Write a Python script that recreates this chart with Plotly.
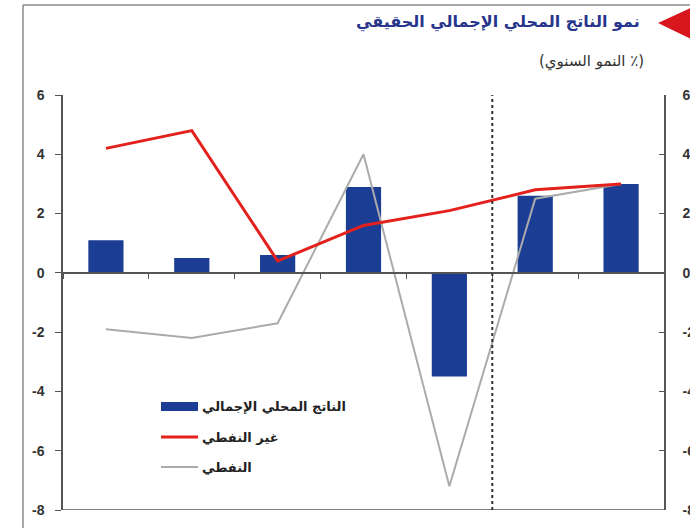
import plotly.graph_objects as go

# ---------------- data ----------------
categories = ["1", "2", "3", "4", "5", "6", "7"]
gdp = [1.1, 0.5, 0.6, 2.9, -3.5, 2.6, 3.0]          # الناتج المحلي الإجمالي (bars)
non_oil = [4.2, 4.8, 0.4, 1.6, 2.1, 2.8, 3.0]       # غير النفطي (red line)
oil = [-1.9, -2.2, -1.7, 4.0, -7.2, 2.5, 3.0]       # النفطي (grey line)
y_ticks = [6, 4, 2, 0, -2, -4, -6, -8]
y_ticktext = [str(v) for v in y_ticks]
title_text = "نمو الناتج المحلي الإجمالي الحقيقي"
subtitle_text = "(النمو السنوي ٪)"
legend_names = ["الناتج المحلي الإجمالي", "غير النفطي", "النفطي"]
forecast_boundary = 4.5

# ---------------- styles ----------------
BLUE = "#1c3d94"
RED = "#e3201b"
GREY = "#ababab"
AXIS = "#555555"
W, H = 690, 528
ML, MR, MT, MB = 63, 26, 95, 18
PW, PH = W - ML - MR, H - MT - MB


def px(xp):
    return (xp - ML) / PW


def py(yp):
    return (H - MB - yp) / PH


fig = go.Figure()
fig.add_trace(go.Bar(x=categories, y=gdp, width=0.41, marker=dict(color=BLUE, line=dict(width=0)),
                     name=legend_names[0], showlegend=False))
fig.add_trace(go.Scatter(x=categories, y=oil, mode="lines", line=dict(color=GREY, width=2),
                         name=legend_names[2], showlegend=False))
fig.add_trace(go.Scatter(x=categories, y=non_oil, mode="lines", line=dict(color=RED, width=3),
                         name=legend_names[1], showlegend=False))
fig.add_trace(go.Scatter(x=[categories[0]], y=[None], yaxis="y2", showlegend=False, hoverinfo="skip"))

tickfont = dict(family="Liberation Sans, Arial", size=14, color="#333333", weight="bold")

fig.update_layout(
    width=W, height=H, template="none",
    margin=dict(l=ML, r=MR, t=MT, b=MB, autoexpand=False),
    plot_bgcolor="white", paper_bgcolor="white",
    showlegend=False,
    xaxis=dict(type="category", range=[-0.5, 6.5], anchor="free", position=8 / 14,
               showline=True, linecolor=AXIS, linewidth=1.5, ticks="outside", tickson="boundaries",
               ticklen=5, tickcolor=AXIS, tickwidth=1.2, showticklabels=False, showgrid=False,
               zeroline=False, automargin=False),
    yaxis=dict(range=[-8, 6], tickvals=y_ticks, ticktext=y_ticktext, ticks="outside", ticklen=6,
               tickcolor=AXIS, tickwidth=1.2, showline=True, linecolor=AXIS, linewidth=1.5,
               tickfont=tickfont, showgrid=False, zeroline=False, automargin=False,
               ticklabelstandoff=8),
    yaxis2=dict(range=[-8, 6], overlaying="y", side="right", tickvals=y_ticks, ticktext=y_ticktext,
                ticks="inside", ticklen=5, tickcolor=AXIS, tickwidth=1.2, showline=True,
                linecolor=AXIS, linewidth=1.5, tickfont=tickfont, showgrid=False, zeroline=False,
                automargin=False, ticklabelstandoff=14),
)

shapes = []
# bottom axis line at -8
shapes.append(dict(type="line", xref="paper", yref="y", x0=0, x1=1, y0=-8, y1=-8,
                   line=dict(color=AXIS, width=1.5)))
# dashed forecast separator
shapes.append(dict(type="line", xref="x", yref="paper", x0=forecast_boundary, x1=forecast_boundary,
                   y0=0, y1=1, line=dict(color="#333333", width=2, dash="dot")))
# outer frame (left and top)
shapes.append(dict(type="line", xref="paper", yref="paper", x0=px(23), x1=px(23), y0=py(530), y1=py(5),
                   line=dict(color="#8a8a8a", width=1.5)))
shapes.append(dict(type="line", xref="paper", yref="paper", x0=px(23), x1=px(695), y0=py(5), y1=py(5),
                   line=dict(color="#8a8a8a", width=1.5)))
# red marker triangle next to title
shapes.append(dict(type="path", xref="paper", yref="paper",
                   path=f"M {px(658)},{py(23)} L {px(695)},{py(6)} L {px(695)},{py(41)} Z",
                   fillcolor="#d7161e", line=dict(width=0)))
# manual legend swatches
shapes.append(dict(type="rect", xref="paper", yref="paper", x0=px(161), x1=px(198),
                   y0=py(411), y1=py(402), fillcolor=BLUE, line=dict(width=0)))
shapes.append(dict(type="line", xref="paper", yref="paper", x0=px(161), x1=px(198),
                   y0=py(437), y1=py(437), line=dict(color=RED, width=3)))
shapes.append(dict(type="line", xref="paper", yref="paper", x0=px(161), x1=px(198),
                   y0=py(467), y1=py(467), line=dict(color=GREY, width=2)))
fig.update_layout(shapes=shapes)

ar_font = "DejaVu Sans"
annotations = [
    dict(text=title_text, xref="paper", yref="paper", x=px(642), y=py(22), xanchor="right",
         yanchor="middle", showarrow=False,
         font=dict(family=ar_font, size=16, color="#27358c", weight="bold")),
    dict(text=subtitle_text, xref="paper", yref="paper", x=px(646), y=py(62), xanchor="right",
         yanchor="middle", showarrow=False, font=dict(family=ar_font, size=15, color="#333333")),
]
for name, ypos in zip(legend_names, [406, 437, 467]):
    annotations.append(dict(text=name, xref="paper", yref="paper", x=px(200), y=py(ypos),
                            xanchor="left", yanchor="middle", showarrow=False,
                            font=dict(family=ar_font, size=13, color="#222222", weight="bold")))
fig.update_layout(annotations=annotations)

fig.write_html("out.html")
